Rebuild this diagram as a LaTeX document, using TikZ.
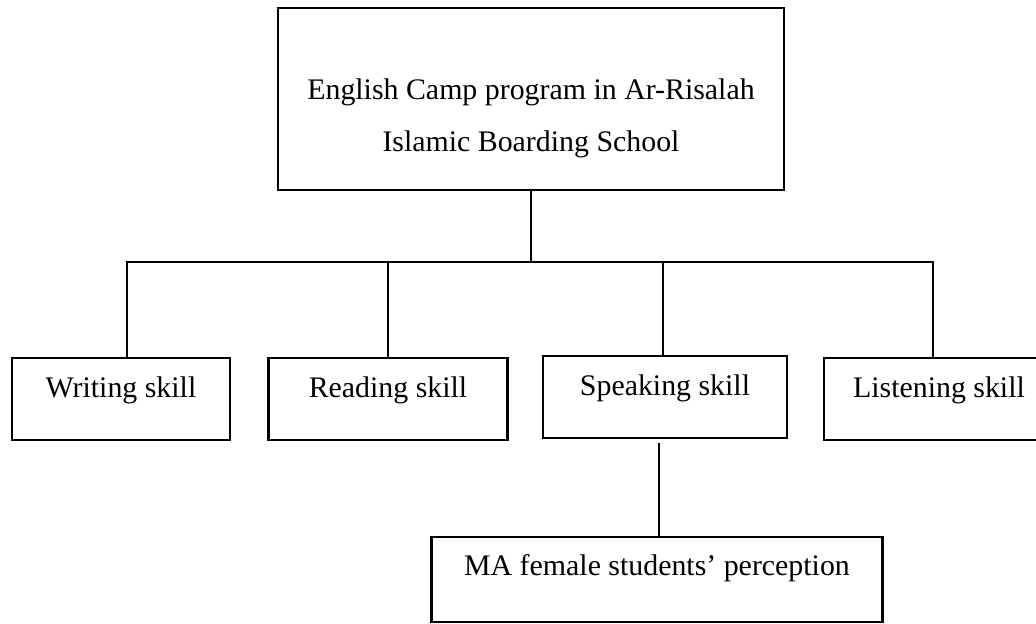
\documentclass[tikz,border=0pt]{standalone}
\usepackage{fontspec}
\setmainfont{Liberation Serif}
\usepackage{tikz}
\usetikzlibrary{positioning,calc}

\begin{document}
\begin{tikzpicture}[x=0.02cm,y=-0.02cm,
		b/.style={draw,line width=1.6pt,inner sep=0pt,font=\fontsize{17}{29.6}\selectfont},
		main/.style={b,align=center,minimum width=10.12cm,text height=2.88cm,text depth=0.76cm},
		skill/.style={b,text height=0.78cm,text depth=0.86cm},
		e/.style={draw,line width=1.3pt}
		]
		\clip (0,0) rectangle (1036,623);
		% top box
		\node[main] (camp) at (531,99) {English Camp program in Ar-Risalah\\Islamic Boarding School};
		% skills
		\node[skill,minimum width=4.36cm] (write)  at (121,399) {Writing skill};
		\node[skill,minimum width=4.78cm] (read)   at (388,399) {Reading skill};
		\node[skill,minimum width=4.88cm] (speak)  at (665,397) {Speaking skill};
		\node[skill,minimum width=4.60cm] (listen) at (939,399) {Listening skill};
		% perception
		\node[b,minimum width=9.02cm,text height=0.76cm,text depth=0.94cm] (ma) at (657,579.5) {MA female students' perception};

		\coordinate (bus) at (531,262);
		\draw[e] (camp.south) -- (bus);
		\draw[e] ([xshift=0.12cm]write.north) |- (bus) -| ([xshift=-0.12cm]listen.north);
		\draw[e] (read.north) -- (read.north |- bus);
		\draw[e] ([xshift=-0.04cm]speak.north) -- ([xshift=-0.04cm]speak.north |- bus);
		\draw[e,shorten >=0.08cm] ([xshift=0.04cm]ma.north) -- ([xshift=0.04cm]ma.north |- speak.south);
	\end{tikzpicture}
\end{document}
